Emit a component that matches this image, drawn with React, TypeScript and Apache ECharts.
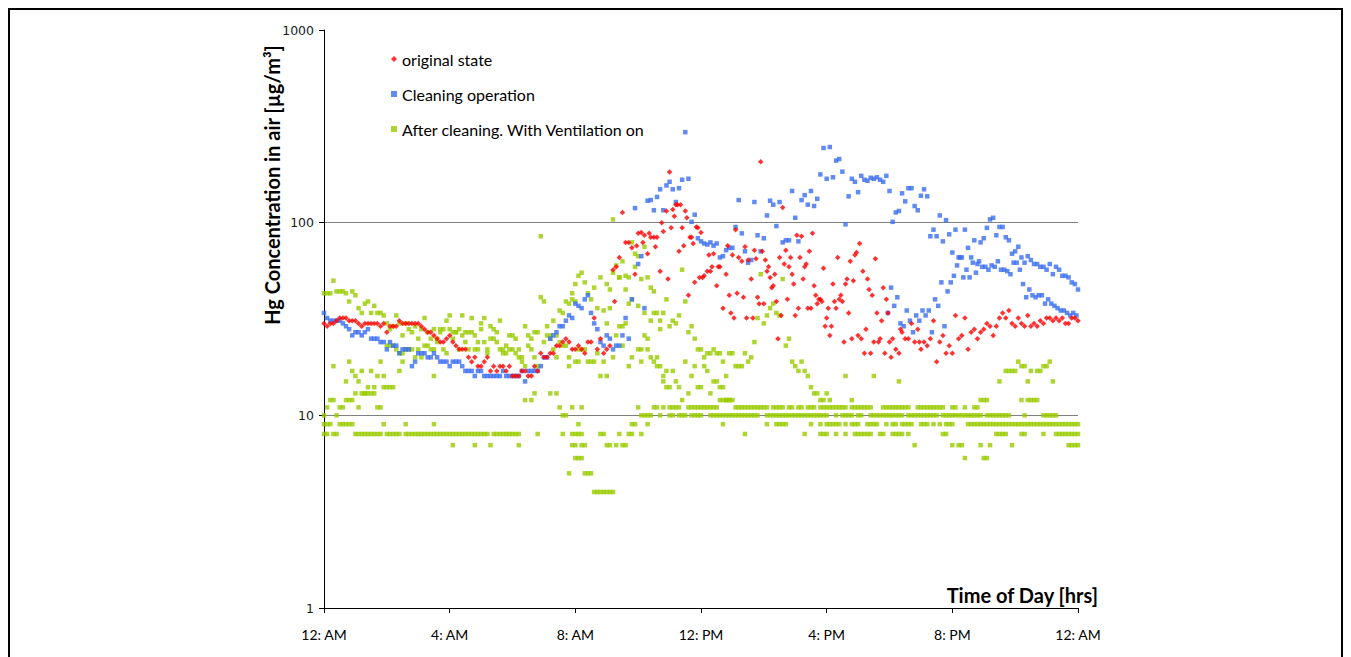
import React, { useEffect, useRef } from "react";
import * as echarts from "echarts";

const _ = null;

// Time axis: hours since midnight, labelled every 4 hours
const hourTicks = ["12: AM", "4: AM", "8: AM", "12: PM", "4: PM", "8: PM", "12: AM"];
const seriesNames = ["original state", "Cleaning operation", "After cleaning. With Ventilation on"];

// Readings are logged every 6 minutes (0.1 h); one line per hour.
// original state, main trace from 0:00
const redMain = [
  30, 29, 30, 30, 31, 32, 32, 32, 31, 31,
  31, 30, 29, 30, 30, 30, 30, 30, 29, 30,
  27, 29, 29, 29, 31, 30, 30, 30, 30, 30,
  30, 29, 28, 27, 27, 26, 25, 24, 24, 25,
  26, 24, 23, 22, 22, 22, 20, 19, 20, 18,
  18, 19, 20, 17, 18, 17, 18, 18, 17, 18,
  16, 16, 16, 17, 17, 16, 16, 18, 17, 21,
  20, 20, 21, 21, 23, 23, 24, 25, 24, 22,
  22, 23, 22, 21, 24, 24, 32, 22, 25, 21,
  22, 23, 57, 59, 66, 113, 79, 79, 74, 54,
  88, 89, 86, 69, 84, 84, 84, 56, 90, 115,
  183, 117, 124, 71, 94, 115, 42, 84, 49, 94,
  89, 53, 56, 56, 69, 47, 59, 36, 54, 42,
  68, 92, 66, 63, 75, 64, 51, 72, 41, 207,
  38, 56, 52, 47, 39, 66, 120, 72, 59, 54,
  33, 36, 85, 59, 36, 36, 47, 38, 40, 58,
  32, 26, 48, 36, 40, 39, 48, 34, 25, 68,
  26, 25, 21, 51, 21, 24, 34, 25, 46, 40,
  24, 25, 22, 21, 27, 25, 25, 30, 24, 28,
  22, 24, 23, 25, 31, 19, 24, 26, 21, 23,
  21, 33, 25, 26, 32, 22, 27, 28, 25, 27,
  28, 30, 29, 26, 29, 32, 34, 32, 35, 30,
  29, 32, 30, 29, 33, 29, 30, 29, 31, 30,
  32, 32, 31, 32, 31, 32, 30, 30, 32, 32,
  31,
];

// original state, second logger from 9:03
const redSecondStart = 9.05;
const redSecond = [
  _, _, 39, _, _, _, _, _, _, 76,
  _, 79, _, 88, _, 75, _, 100, _, 51,
  94, 108, 124, 124, 76, 106, 84, 78, 95, 52,
  52, _, 68, 59, _, 59, _, _, 76, 34,
  32, 43, _, 41, 32, _, 32, 65, 38, 71,
  64, 59, 46, 54, 25, 33, 61, 40, 66, 48,
  86, 66, 51, 61, 71, 88, 42, 40, 39, 29,
  36, 29, 39, 66, 42, 24, 51, 63, 50, 70,
  78, 56, 28, 45, 42, 65, 24, 31, 21, 34,
  20, _, _, 28, _, _, _, _, _, 24,
];

// Cleaning operation, main trace from 0:00
const blueMain = [
  34, 32, 31, 31, 31, 31, 30, 29, 28, 26,
  27, 27, 26, 27, 28, 25, 25, 25, 24, 24,
  22, 24, 23, 23, 21, 22, 22, 22, 18, 19,
  21, 21, 21, 20, 20, 21, 20, 19, 19, 19,
  18, 19, 19, 19, 18, 17, 17, 17, 16, 17,
  17, 16, 16, 16, 16, 16, 16, 17, 16, 16,
  16, 16, 16, 17, 15, 17, 17, 17, 17, 18,
  20, 20, 25, 26, 27, 29, 29, 31, 33, 32,
  38, 37, 36, 40, 42, 34, 30, 28, 24, 23,
  26, 25, 22, 23, 23, 26, 32, 25, 40, 119,
  61, 67, 36, 130, 131, 116, 136, 149, 116, 156,
  163, 149, 128, 151, 167, 295, 169, 101, 110, 83,
  80, 78, 77, 79, 76, 78, 66, 67, 72, 74,
  74, 95, 131, 88, 71, 62, 64, 128, 86, 71,
  83, 109, 130, 124, 96, 128, 79, 81, 81, 146,
  106, 80, 131, 139, 124, 146, 122, 133, 178, 244,
  169, 247, 172, 210, 214, 184, 98, 137, 169, 163,
  144, 175, 167, 165, 171, 169, 172, 167, 163, 175,
  146, 101, 113, 115, 142, 129, 151, 151, 122, 116,
  138, 149, 137, 85, 92, 85, 109, 80, 103, 87,
  70, 92, 66, 66, 92, 74, 66, 81, 61, 79,
  83, 94, 104, 106, 86, 95, 95, 84, 81, 69,
  71, 75, 66, 62, 67, 64, 61, 61, 59, 59,
  57, 61, 54, 59, 57, 53, 53, 52, 49, 48,
  45,
];

// Cleaning operation, second logger from 17:57
const blueSecondStart = 17.95;
const blueSecond = [
  34,
  46, 37, 41, 30, 29, 35, 31, 27, 33, 31,
  35, 33, 35, 27, 40, 37, 49, 29, 44, 49,
  53, 60, 66, 52, 57, 52, 62, 55, 63, 59,
  59, 57, 60, 59, 63, 57, 57, 56, 54, 62,
  62, 57, 48, 41, 45, 42, 41, 42, 42, 38,
  40, 38, 37, 36, 35, 35, 34, 33, 34, 33,
];

// After cleaning, ventilation on: several loggers (integer readings)
const greenUpper = [
  43, 43, 43, 50, 44, 44, 44, 43, 39, 44,
  42, 36, 34, 38, 39, 34, 37, 34, 34, 33,
  30, 28, 29, 33, 30, 26, 30, 28, 27, 29,
  25, 28, 32, 27, 25, 28, 25, 28, 28, 31,
  33, 27, 27, 28, 33, 27, 27, 32, 26, 24,
  28, 32, 22, 29, 28, 27, 31, 21, 23, 26,
  26, 25, 22, 20, 29, 26, 25, 27, 27, 85,
  39, 29, 26, 31, 26, 35, 34, 39, 38, 40,
  48, 53, 55, 49, 43, 40, 46, 36, 52, 35,
  48, 45, 104, 60, 52, 63, 45, 52, 79, 69,
  67, 51, 75, 52, 46, 44, 34, 31, 34, 40,
  29, 31, 30, 33, 57, 39, 27, 29, 25, 22,
  22, 20, 21, 21, 22, 21, 21, 19, 16, 21,
  21, 18, 18, 18, 21, 19, 20, 24, 32, 54,
  30, 33, 36, 38, 34, 33, 51, 23, 25, 19,
  18, 17, 19, 17, 16, 14, 13, 13, 12, 12,
  13, 12, _, _, _, _, 16, _, 12, _,
  _, _, _, _, _, 16, _, _, _, _,
  _, _, _, 15, _, _, _, _, _, _,
  _, _, _, _, _, _, _, _, _, _,
  _, _, _, _, _, _, _, _, _, 12,
  12, _, _, _, _, 15, _, 17, 17, 17,
  17, 19, 18, 18, 15, 17, 12, 17, 17, 18,
  18, 19, 15, _, _, _, _, _, _, _,
  _,
];

const greenMiddle = [
  _, _, _, 18, _, _, _, 15, 19, 17,
  16, 15, 17, 13, 14, 17, 14, 16, 19, 14,
  23, 23, 23, 22, 21, 21, 22, 22, 22, 20,
  22, 20, 23, 23, 22, 22, 24, 27, 22, 21,
  28, 25, 27, 22, 26, 24, 22, 27, 22, 22,
  30, 24, 21, 25, 25, 24, 22, 22, 21, 22,
  22, 21, 20, 19, 18, 23, 22, 20, 18, 41,
  24, 26, 25, 22, 20, 24, 23, 23, 20, 43,
  39, 22, 22, 22, 19, 19, 19, 21, 16, 19,
  30, 36, 55, 26, 52, 29, 53, 38, 40, 59,
  37, 22, 34, 22, 31, 34, 20, 28, 16, 17,
  14, 17, 15, 14, 12, 19, 13, 16, 18, 14,
  14, 18, 17, 13, 15, 15, 14, 14, 12, 12,
];

const greenLower = [
  10, 11, 12, 12, 10, 11, 11, 12, 12, 12,
  13, 11, 13, 13, 13, 13, 13, 11, 11, 16,
  14, 14, 14, _, 17, 19, _, _, _, _,
  _, _, _, _, _, 16, _, _, _, _,
  _, _, _, _, _, _, _, _, _, _,
  _, _, _, _, _, _, _, _, _, _,
  _, _, _, _, 12, _, 12, 13, _, _,
  _, _, 13, _, 13, 11, 10, 10, 18, 11,
  19, 19, 11, _, _, _, _, _, _, _,
  16, _, 20, _, 29, 23, 30, 18, 20, _,
  22, 19, 26, 25, 20, 19, 18, 18, 15, 14,
];

const greenRow11Start = 10;
const greenRow11 = [
  11, _, _, _, _, 11, 11, _, 11, _,
  11, 11, 11, 11, _, _, 11, 11, 11, 11,
  11, 11, 11, 11, 11, 11, 12, 12, 12, 12,
  12, 11, 11, 11, 11, 11, 11, 11, 11, 11,
  11, 11, _, 11, 11, 11, 11, _, 11, 11,
  _, 11, 11, _, 11, 11, 11, _, 11, 11,
  11, 11, 11, 11, 11, 11, 11, _, 11, 11,
  11, 11, 11, 11, 11, _, _, _, 11, 11,
  11, 11, 11, 11, 11, 11, 11, _, _, 11,
  11, 11, 11, 11, 11, 11, 11, 11, _, _,
  11, 11, _, _, 11, _, _, 11, 11, _,
  _, 12, _, _, _, _, _, _, _, _,
  _, _, 12, _, 12, 12, _, 12, _, _,
];

const greenRow10Start = 10;
const greenRow10 = [
  _, 10, 10, 10, 10, _, _, 10, _, _,
  10, 10, _, 10, 10, 10, _, 10, 10, 10,
  10, _, _, 10, 10, 10, 10, 10, 10, 10,
  10, 10, 10, 10, 10, 10, 10, 10, 10, _,
  _, 10, 10, 10, 10, 10, 10, 10, 10, 10,
  10, 10, 10, 10, 10, 10, 10, 10, 10, 10,
  10, _, _, 10, _, 10, 10, 10, 10, _,
  10, 10, _, _, 10, 10, 10, 10, 10, 10,
  10, 10, 10, 10, 10, _, 10, 10, 10, 10,
  10, 10, 10, 10, 10, 10, _, 10, 10, 10,
  10, 10, 10, 10, 10, 10, 10, 10, 10, 10,
  _, 10, 10, 10, 10, 10, 10, 10, 10, _,
  _, _, _, 10, _, _, _, _, _, 10,
  10, 10, 10, 10, _, _, _, _, _, _,
];

const greenRow9 = [
  9, 9, 9, _, _, 9, 9, 9, 9, 9,
  _, _, _, _, _, _, _, _, _, 9,
  _, _, _, _, _, _, 9, _, _, _,
  _, _, _, _, _, 9, _, _, _, _,
  _, 7, _, _, _, _, _, _, 7, _,
  _, _, _, 7, _, _, _, _, _, _,
  _, _, 7, _, _, _, _, _, _, _,
  _, _, _, _, _, _, _, _, _, 7,
  7, 9, 7, 7, _, _, _, _, _, _,
  _, _, _, _, _, _, _, _, 9, 9,
  _, _, _, 9, _, _, _, _, _, _,
  _, _, _, _, _, _, _, _, _, _,
  _, _, _, _, _, _, _, 9, _, _,
  _, _, _, _, _, _, _, _, _, _,
  _, 9, _, _, 9, 9, 9, 9, _, _,
  _, _, _, _, _, 9, _, _, 9, _,
  9, 9, 9, 9, 9, _, 9, _, 9, 9,
  9, _, _, 9, 9, 9, 9, _, _, 9,
  _, 9, 9, _, 9, 9, 9, 9, 7, _,
  9, 9, 9, _, 9, _, 9, _, 9, 9,
  9, _, _, _, _, 9, 9, 9, 9, 9,
  9, 9, 9, 9, 9, 9, 9, 9, 9, 9,
  9, 9, 9, 9, 9, 9, 9, 9, 9, 9,
  9, 9, 9, 9, 9, 9, 9, 9, 9, 9,
  9,
];

const greenRow8 = [
  8, 8, _, 8, 8, _, _, _, _, _,
  8, 8, 8, 8, 8, 8, 8, 8, 8, _,
  8, 8, 8, 8, 8, _, 8, 8, 8, 8,
  8, 8, 8, 8, 8, 8, 8, 8, 8, 8,
  8, 8, 8, 8, 8, 8, 8, 8, 8, 8,
  8, 8, 8, _, 8, 8, 8, 8, 8, 8,
  8, 8, 8, _, _, _, _, _, 8, _,
  _, _, _, _, _, _, 8, _, _, 8,
  8, 8, 8, _, _, _, _, _, 8, 8,
  7, 7, _, 7, 8, 7, 7, 8, 8, _,
  _, 8, _, _, _, _, _, _, _, _,
  _, _, _, _, _, _, _, _, _, _,
  _, _, _, _, _, _, _, _, _, _,
  _, _, _, _, 8, _, _, _, _, _,
  _, _, _, _, _, _, _, _, _, _,
  _, _, _, 8, _, _, _, _, 8, 8,
  8, _, _, 8, _, _, 8, _, _, 8,
  8, 8, 8, 8, 8, _, _, 8, 8, _,
  _, 8, 8, 8, 8, _, 8, _, _, _,
  _, _, _, _, _, _, _, 8, 8, _,
  7, _, 7, 7, 6, _, _, _, _, 7,
  6, 6, 7, _, 8, 8, 8, 8, _, 7,
  _, _, 8, 8, _, _, _, _, _, 8,
  _, _, _, 8, 8, 8, 8, 8, 8, 8,
  8,
];

const greenDipStart = 7;
const greenDip = [
  _, _, _, _, _, _, _, _, 5, _,
  6, 6, 6, 5, 5, 5, 4, 4, 4, 4,
  4, 4, 4, _, _, _, _, _, _, _,
];

const greenLateStart = 23.7;
const greenLate = [7, 7, 7, 7];

// Turn a 6-minute track into [hour, value] points, skipping gaps
function track(start: number, values: (number | null)[]) {
  const points: [number, number][] = [];
  values.forEach((v, i) => {
    if (v != null) points.push([Math.round((start + i * 0.1) * 100) / 100, v]);
  });
  return points;
}

const redData = [...track(0, redMain), ...track(redSecondStart, redSecond)];
const blueData = [...track(0, blueMain), ...track(blueSecondStart, blueSecond)];
const greenData = [
  ...track(0, greenUpper),
  ...track(0, greenMiddle),
  ...track(0, greenLower),
  ...track(greenRow11Start, greenRow11),
  ...track(greenRow10Start, greenRow10),
  ...track(0, greenRow9),
  ...track(0, greenRow8),
  ...track(greenDipStart, greenDip),
  ...track(greenLateStart, greenLate),
];

const RED = "#FF0000";
const BLUE = "#3A6EF0";
const GREEN = "#99CC00";

export default function App() {
  const ref = useRef<HTMLDivElement>(null);

  useEffect(() => {
    if (!ref.current) return;
    const chart = echarts.init(ref.current, null, { renderer: "svg" });
    chart.setOption({
      animation: false,
      backgroundColor: "#ffffff",
      grid: { left: 324, right: 273, top: 30, bottom: 49 },
      legend: {
        orient: "vertical",
        left: 386,
        top: 46,
        itemWidth: 6,
        itemHeight: 6,
        itemGap: 19,
        data: seriesNames,
        textStyle: { fontFamily: "Lato", fontSize: 16, color: "#000" },
      },
      xAxis: {
        type: "value",
        min: 0,
        max: 24,
        interval: 4,
        axisLine: { lineStyle: { color: "#000", width: 1 } },
        axisTick: { show: true, length: 5, lineStyle: { color: "#000" } },
        axisLabel: {
          formatter: (v: number) => hourTicks[Math.round(v / 4)],
          fontFamily: "Lato",
          fontSize: 14,
          color: "#000",
          margin: 19,
        },
        splitLine: { show: false },
      },
      yAxis: {
        type: "log",
        logBase: 10,
        min: 1,
        max: 1000,
        axisLine: { show: true, lineStyle: { color: "#000", width: 1 } },
        axisTick: { show: true, length: 5, lineStyle: { color: "#000" } },
        axisLabel: {
          formatter: (v: number) => String(Math.round(v)),
          fontFamily: "DejaVu Sans",
          fontSize: 12.5,
          color: "#1a1a1a",
          margin: 10,
        },
        splitLine: {
          show: true,
          showMinLine: false,
          showMaxLine: false,
          lineStyle: { color: "#808080", width: 1 },
        },
      },
      graphic: [
        {
          type: "rect",
          shape: { x: 9, y: 9, width: 1333, height: 700 },
          style: { fill: "none", stroke: "#000", lineWidth: 2 },
          silent: true,
        },
        {
          type: "text",
          x: 272,
          y: 185,
          rotation: Math.PI / 2,
          style: {
            text: "Hg Concentration in air [µg/m³]",
            fontFamily: "Lato",
            fontWeight: "bold",
            fontSize: 20,
            fill: "#000",
            align: "center",
            verticalAlign: "middle",
          },
        },
        {
          type: "text",
          x: 1098,
          y: 595,
          style: {
            text: "Time of Day [hrs]",
            fontFamily: "Lato",
            fontWeight: "bold",
            fontSize: 20,
            fill: "#000",
            align: "right",
            verticalAlign: "middle",
          },
        },
      ],
      series: [
        {
          name: seriesNames[0],
          type: "scatter",
          symbol: "diamond",
          symbolSize: 5.5,
          itemStyle: { color: RED },
          z: 4,
          data: redData,
        },
        {
          name: seriesNames[1],
          type: "scatter",
          symbol: "rect",
          symbolSize: 4.5,
          itemStyle: { color: BLUE },
          z: 3,
          data: blueData,
        },
        {
          name: seriesNames[2],
          type: "scatter",
          symbol: "rect",
          symbolSize: 4.5,
          itemStyle: { color: GREEN },
          z: 2,
          data: greenData,
        },
      ],
    });
    return () => chart.dispose();
  }, []);

  return (
    <div
      ref={ref}
      style={{ position: "fixed", left: 0, top: 0, width: 1351, height: 657, background: "#fff" }}
    />
  );
}
